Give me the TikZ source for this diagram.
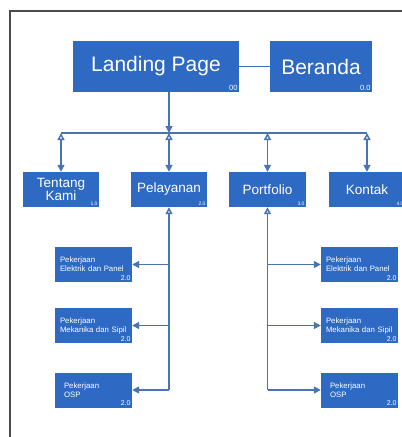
\documentclass[tikz,border=0pt]{standalone}
\usepackage{fontspec}
\setmainfont{Liberation Sans}
\usetikzlibrary{arrows.meta}
\definecolor{boxblue}{RGB}{46,106,196}
\definecolor{wireblue}{RGB}{72,116,182}
\tikzset{
	page/.style={fill=boxblue, text=white, inner sep=0pt, align=center},
	subpage/.style={page, minimum width=77pt, minimum height=35pt, text width=67pt, align=left, font=\fontsize{7.8}{9}\selectfont},
	num/.style={text=white, inner sep=1.5pt, anchor=south east},
	wire/.style={draw=wireblue, line width=1.5pt},
	up/.style={{Triangle[open,length=7pt,width=7pt]}-},
	dn/.style={-{Triangle[length=7pt,width=7pt]}},
	updn/.style={{Triangle[open,length=7pt,width=7pt]}-{Triangle[length=7pt,width=7pt]}}
}

\begin{document}
\begin{tikzpicture}[x=1pt, y=-1pt]
		%%%%% START %%%%%
		\useasboundingbox (0, 0) rectangle (402, 437);
		\draw[black!70, line width=1.3pt] (10, 437) -- (10, 11) -- (402, 11);
		
		% top row
		\node[page, minimum width=166pt, minimum height=51pt, font=\fontsize{21}{24}\selectfont] (lp) at (156, 66.5) {Landing Page};
		\node[num, font=\fontsize{7.5}{8}\selectfont] (lpn) at (lp.south east) {00};
		\node[page, minimum width=102pt, minimum height=51pt, font=\fontsize{21}{24}\selectfont] (ber) at (321, 66.5) {Beranda};
		\node[num, font=\fontsize{7.5}{8}\selectfont] (bern) at (ber.south east) {0.0};
		
		% second row
		\node[page, minimum width=76pt, minimum height=35pt, font=\fontsize{13.5}{13.5}\selectfont] (tk) at (61, 189.5) {Tentang\\Kami};
		\node[num, font=\fontsize{5}{6}\selectfont] (tkn) at (tk.south east) {1.0};
		\node[page, minimum width=76pt, minimum height=35pt, font=\fontsize{13.5}{13}\selectfont] (pel) at (169, 189.5) {Pelayanan};
		\node[num, font=\fontsize{5}{6}\selectfont] (peln) at (pel.south east) {2.0};
		\node[page, minimum width=77pt, minimum height=35pt, font=\fontsize{13.5}{13}\selectfont] (port) at (267.5, 189.5) {Portfolio};
		\node[num, font=\fontsize{5}{6}\selectfont] (portn) at (port.south east) {3.0};
		\node[page, minimum width=76pt, minimum height=35pt, font=\fontsize{13.5}{13}\selectfont] (kon) at (367, 189.5) {Kontak};
		\node[num, font=\fontsize{5}{6}\selectfont] (konn) at (kon.south east) {4.0};
		
		% sub pages
		\node[subpage] (elL) at (93.5, 264.5) {Pekerjaan\\Elektrik dan Panel};
		\node[num, font=\fontsize{7}{8}\selectfont] (elLn) at (elL.south east) {2.0};
		\node[subpage] (mkL) at (93.5, 325.5) {Pekerjaan\\Mekanika dan Sipil};
		\node[num, font=\fontsize{7}{8}\selectfont] (mkLn) at (mkL.south east) {2.0};
		\node[subpage] (osL) at (93.5, 390) {\hspace*{4pt}Pekerjaan\\\hspace*{4pt}OSP};
		\node[num, font=\fontsize{7}{8}\selectfont] (osLn) at (osL.south east) {2.0};
		
		\node[subpage] (elR) at (359.5, 264.5) {Pekerjaan\\Elektrik dan Panel};
		\node[num, font=\fontsize{7}{8}\selectfont] (elRn) at (elR.south east) {2.0};
		\node[subpage] (mkR) at (359.5, 325.5) {Pekerjaan\\Mekanika dan Sipil};
		\node[num, font=\fontsize{7}{8}\selectfont] (mkRn) at (mkR.south east) {2.0};
		\node[subpage] (osR) at (359.5, 390) {\hspace*{4pt}Pekerjaan\\\hspace*{4pt}OSP};
		\node[num, font=\fontsize{7}{8}\selectfont] (osRn) at (osR.south east) {2.0};
		
		% connectors
		\draw[wire] (lp.east) -- (ber.west);
		\coordinate (busL) at (61, 133);
		\coordinate (busR) at (367, 133);
		\draw[wire] (busL) -- (busR);
		\draw[wire, dn] (lp.south -| pel) -- (pel |- busL);
		\draw[wire, updn] (tk |- busL) -- (tk.north);
		\draw[wire, updn] (pel |- busL) -- (pel.north);
		\draw[wire, updn] (port |- busL) -- (port.north);
		\draw[wire, updn] (kon |- busL) -- (kon.north);
		
		\draw[wire, up] (pel.south) -- (pel.south |- osL.east);
		\draw[wire, dn] (pel.south |- elL.east) -- (elL.east);
		\draw[wire, dn] (pel.south |- mkL.east) -- (mkL.east);
		\draw[wire, dn] (pel.south |- osL.east) -- (osL.east);
		
		\draw[wire, up] (port.south) -- (port.south |- osR.west);
		\draw[wire, dn] (port.south |- elR.west) -- (elR.west);
		\draw[wire, dn] (port.south |- mkR.west) -- (mkR.west);
		\draw[wire, dn] (port.south |- osR.west) -- (osR.west);
		%%%%% END %%%%%
\end{tikzpicture}
\end{document}
